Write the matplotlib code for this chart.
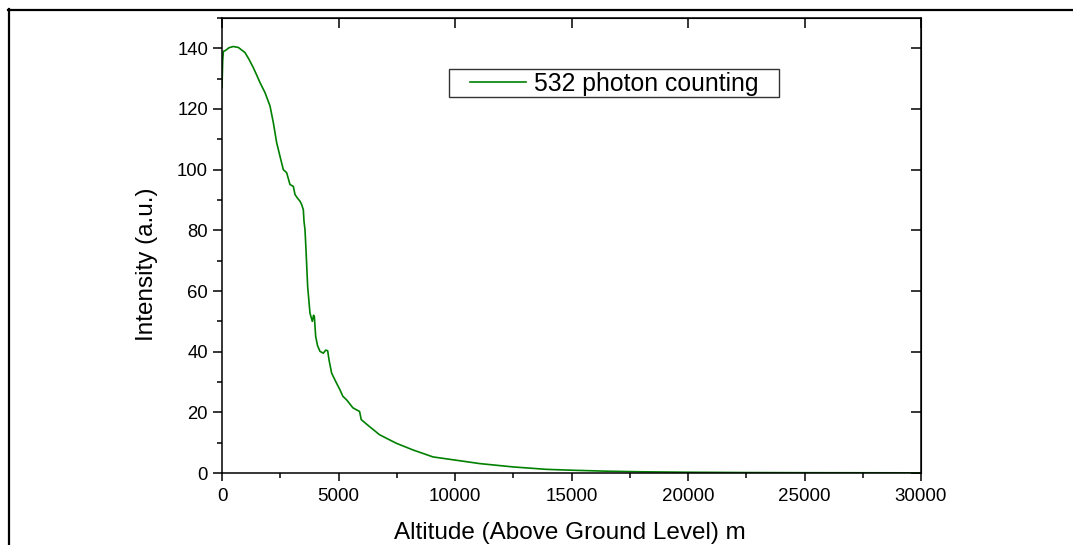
import matplotlib
matplotlib.use('Agg')
import matplotlib.pyplot as plt
from matplotlib.lines import Line2D
from matplotlib.patches import Rectangle
from matplotlib.ticker import MultipleLocator

plt.rcParams['font.family'] = ['Liberation Sans', 'DejaVu Sans']

# altitude (m) and 532 nm photon counting signal
altitude = [0, 30, 60, 150, 300, 485, 700, 987, 1150, 1345, 1500, 1631, 1846,
            2060, 2203, 2346, 2489, 2632, 2775, 2918, 3061, 3133, 3250, 3348,
            3419, 3490, 3519, 3562, 3605, 3676, 3776, 3876, 3930, 3963, 4021,
            4100, 4206, 4348, 4450, 4535, 4600, 4707, 4904, 5064, 5186, 5350,
            5616, 5779, 5904, 5976, 6300, 6764, 7482, 8196, 9056, 10060, 11064,
            12496, 13930, 15075, 16500, 18000, 20000, 22500, 25000, 27500, 30000]
intensity = [127, 136, 139, 139.3, 140.2, 140.6, 140.3, 138.6, 136.5, 133.6,
             131, 128.7, 125.4, 121.0, 115.5, 108.9, 104.4, 100.0, 99.0, 95.1,
             94.5, 91.8, 90.5, 89.6, 88.5, 86.8, 83, 80.2, 73.6, 61.5, 52.7,
             50.0, 52, 51.6, 45.0, 42, 40.1, 39.5, 40.5, 40.3, 37, 32.9, 29.8,
             27.4, 25.3, 24.1, 21.5, 20.8, 20.3, 17.6, 15.5, 12.6, 9.8, 7.6,
             5.3, 4.2, 3.1, 2.0, 1.2, 0.9, 0.6, 0.4, 0.25, 0.15, 0.1, 0.08, 0.05]

fig = plt.figure(figsize=(10.73, 5.45), dpi=100)
ax = fig.add_axes([222/1073, 1 - 473/545, 699/1073, 455/545])

ax.plot(altitude, intensity, color='#008000', lw=1.2, label='532 photon counting')

ax.set_xlim(0, 30000)
ax.set_ylim(0, 150)
ax.xaxis.set_major_locator(MultipleLocator(5000))
ax.xaxis.set_minor_locator(MultipleLocator(2500))
ax.yaxis.set_major_locator(MultipleLocator(20))
ax.yaxis.set_minor_locator(MultipleLocator(10))
ax.set_yticks([0, 20, 40, 60, 80, 100, 120, 140])

for sp in ax.spines.values():
    sp.set_linewidth(1.1)
ax.tick_params(axis='x', which='major', direction='out', length=5.5, width=1.1,
               labelsize=13.5, pad=5)
ax.tick_params(axis='x', which='minor', direction='out', length=3.5, width=1.1)
ax.tick_params(axis='y', which='major', direction='out', length=6.5, width=1.1,
               labelsize=13.3, pad=3.5)
ax.tick_params(axis='y', which='minor', direction='out', length=3.3, width=1.1)

# inward ticks on top and right, no labels
top = ax.secondary_xaxis('top')
top.set_xticks([0, 5000, 10000, 15000, 20000, 25000, 30000])
top.tick_params(direction='in', length=7, width=1.1, labeltop=False)
right = ax.secondary_yaxis('right')
right.set_yticks([0, 20, 40, 60, 80, 100, 120, 140])
right.tick_params(direction='in', length=7, width=1.1, labelright=False)

# legend inside a drawn box
ax.legend(loc='center', bbox_to_anchor=((614 - 222) / 699, (473 - 84) / 455),
          frameon=False, fontsize=17.8, handlelength=2.3, handletextpad=0.3,
          borderpad=0, borderaxespad=0)
ax.add_patch(Rectangle(((449 - 222) / 699, (473 - 97) / 455), 330 / 699, 28 / 455,
                       transform=ax.transAxes, fill=False, ec='#333333', lw=1.0))

fig.text(570/1073, 1 - 539/545, 'Altitude (Above Ground Level) m', ha='center',
         va='baseline', fontsize=17.5)
fig.text(147.5/1073, 1 - 264/545, 'Intensity (a.u.)', ha='center', va='center',
         rotation=90, fontsize=17.5)

# outer frame (top and left edges)
fig.add_artist(Line2D([8/1073, 1], [1 - 9.5/545, 1 - 9.5/545], color='black', lw=1.6,
                      transform=fig.transFigure))
fig.add_artist(Line2D([8.5/1073, 8.5/1073], [0, 1 - 9/545], color='black', lw=1.6,
                      transform=fig.transFigure))

fig.savefig('out.png', dpi=100)
